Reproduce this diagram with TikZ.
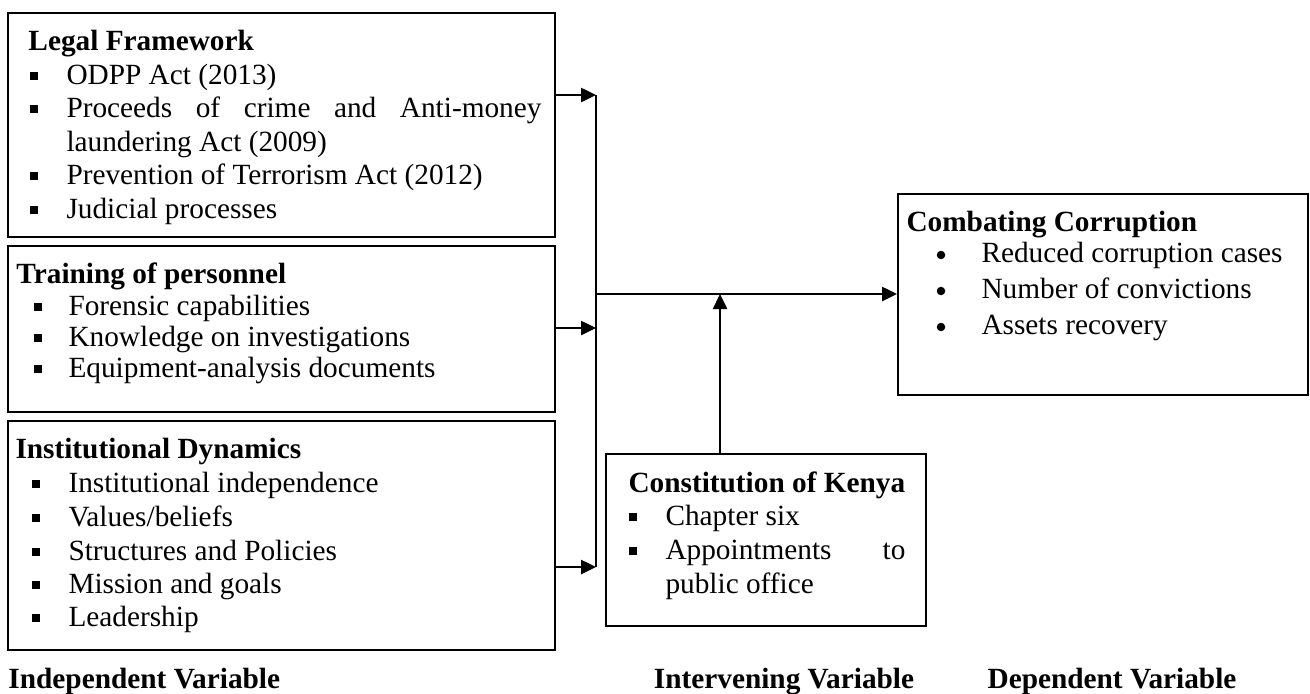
\documentclass[tikz,border=0pt]{standalone}
\usepackage{fontspec}
\setmainfont{Liberation Serif}
\usetikzlibrary{arrows.meta,fit}
\newcommand{\sqbul}{\rule[1.6pt]{3.3pt}{3.3pt}}
\begin{document}
\begin{tikzpicture}[x=0.4pt,y=-0.4pt,
  every node/.style={font=\fontsize{11.72}{14}\selectfont},
  box/.style={draw, line width=0.8pt, inner sep=0pt},
  txt/.style={anchor=base west, inner sep=0pt},
  bul/.style={anchor=base, inner sep=0pt},
  dot/.style={circle, fill, inner sep=0pt, minimum size=3.4pt},
  conn/.style={line width=1pt},
  arr/.style={line width=1pt, -{Triangle[length=6pt,width=5.6pt]}}]
\useasboundingbox (0,0) rectangle (1310,693);
% boxes
\node[box, fit={(8,13) (555,237)}] (legal) {};
\node[box, fit={(8,246) (555,412)}] (train) {};
\node[box, fit={(8,421) (555,650)}] (inst) {};
\node[box, fit={(898,194) (1308,395)}] (dep) {};
\node[box, fit={(606,454) (926,626)}] (const) {};
% legal framework
\node[txt] (l0) at (28,50) {\bfseries Legal Framework};
\node[bul] (lb1) at (34,84) {\sqbul};
\node[txt] (l1) at (66,84) {ODPP Act (2013)};
\node[bul] (lb2) at (34,117) {\sqbul};
\node[txt] (l2) at (66,117) {\hbox to 190pt{Proceeds\hfill of\hfill crime\hfill and\hfill Anti-money}};
\node[txt] (l3) at (66,151) {laundering Act (2009)};
\node[bul] (lb4) at (34,184) {\sqbul};
\node[txt] (l4) at (66,184) {Prevention of Terrorism Act (2012)};
\node[bul] (lb5) at (34,218) {\sqbul};
\node[txt] (l5) at (66,218) {Judicial processes};
% training
\node[txt] (t0) at (16,283) {\bfseries Training of personnel};
\node[bul] (tb1) at (38,315) {\sqbul};
\node[txt] (t1) at (68,315) {Forensic capabilities};
\node[bul] (tb2) at (38,346) {\sqbul};
\node[txt] (t2) at (68,346) {Knowledge on investigations};
\node[bul] (tb3) at (38,377) {\sqbul};
\node[txt] (t3) at (68,377) {Equipment-analysis documents};
% institutional
\node[txt] (i0) at (15,458) {\bfseries Institutional Dynamics};
\node[bul] (ib1) at (36,492) {\sqbul};
\node[txt] (i1) at (68,492) {Institutional independence};
\node[bul] (ib2) at (36,526) {\sqbul};
\node[txt] (i2) at (68,526) {Values/beliefs};
\node[bul] (ib3) at (36,560) {\sqbul};
\node[txt] (i3) at (68,560) {Structures and Policies};
\node[bul] (ib4) at (36,593) {\sqbul};
\node[txt] (i4) at (68,593) {Mission and goals};
\node[bul] (ib5) at (36,626) {\sqbul};
\node[txt] (i5) at (68,626) {Leadership};
% dependent
\node[txt] (d0) at (906,231) {\bfseries Combating Corruption};
\node[dot] (db1) at (941,255) {};
\node[txt] (d1) at (981,262) {Reduced corruption cases};
\node[dot] (db2) at (941,291) {};
\node[txt] (d2) at (981,298) {Number of convictions};
\node[dot] (db3) at (941,327) {};
\node[txt] (d3) at (981,334) {Assets recovery};
% constitution
\node[txt] (k0) at (628,492) {\bfseries Constitution of Kenya};
\node[bul] (kb1) at (633,525) {\sqbul};
\node[txt] (k1) at (665,525) {Chapter six};
\node[bul] (kb2) at (633,559) {\sqbul};
\node[txt] (k2) at (665,559) {\hbox to 96pt{Appointments\hfill to}};
\node[txt] (k3) at (665,593) {public office};
% bottom labels
\node[txt] (lab1) at (8,688) {\bfseries Independent Variable};
\node[bul] (lab2) at (784,688) {\bfseries Intervening Variable};
\node[bul] (lab3) at (1112,688) {\bfseries Dependent Variable};
% connectors
\coordinate (ctop) at (596,95);
\coordinate (cmidin) at (596,328);
\coordinate (cbot) at (596,567);
\coordinate (cmid) at (596,294);
\coordinate (jn) at (720,294);
\draw[conn] (ctop) -- (cbot);
\draw[arr] (legal.east |- ctop) -- (ctop);
\draw[arr] (train.east |- cmidin) -- (cmidin);
\draw[arr] (inst.east |- cbot) -- (cbot);
\draw[arr] (cmid) -- (dep.west |- cmid);
\draw[arr] (const.north -| jn) -- (jn);
\end{tikzpicture}
\end{document}
